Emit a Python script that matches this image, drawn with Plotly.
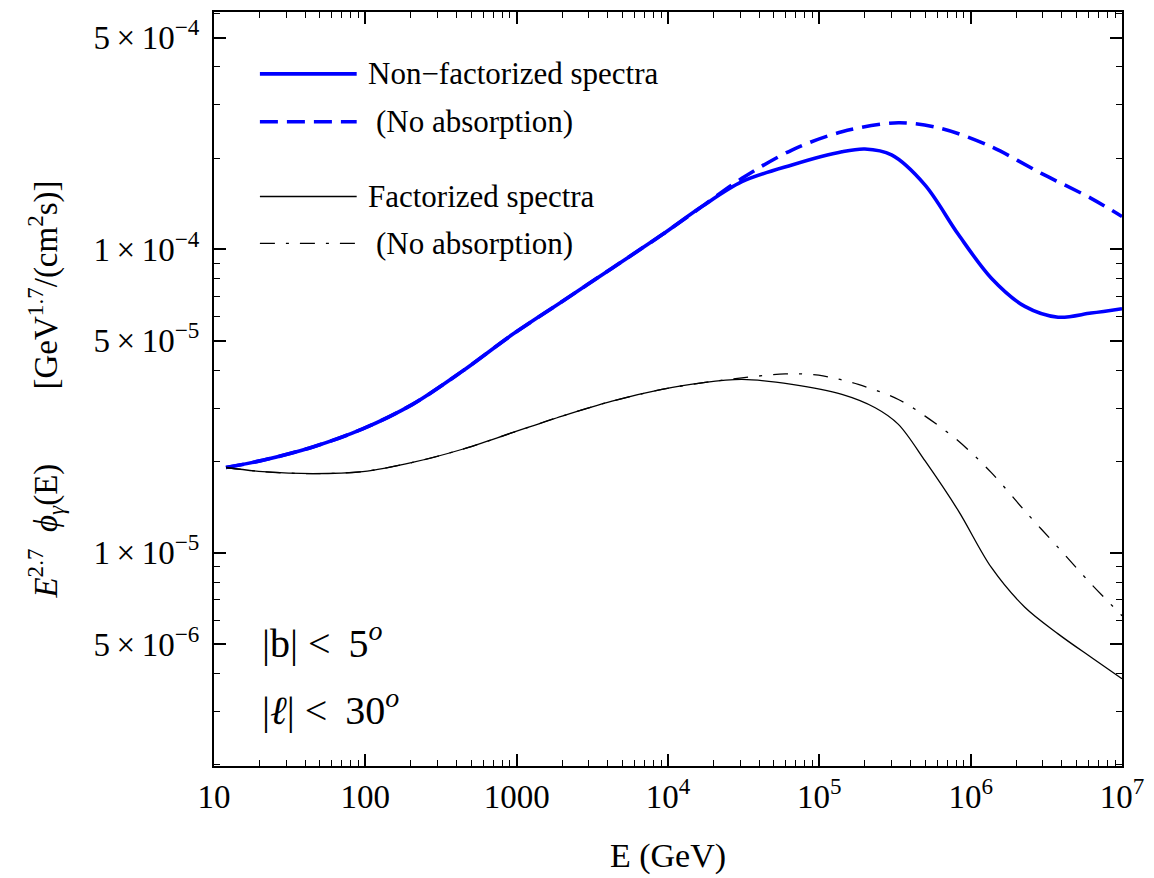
import plotly.graph_objects as go
import numpy as np

# ---------------- data ----------------
E_nonfact = [12, 21, 45, 96, 205, 438, 935, 1998, 4268, 9117, 16730, 30800, 65900,
             1.41e5, 2.0e5, 3.0e5, 5.0e5, 8.3e5, 1.37e6, 2.28e6, 3.78e6, 6.25e6, 1e7]
nonfact_abs = [1.91e-5, 2.018e-5, 2.232e-5, 2.56e-5, 3.084e-5, 3.97e-5, 5.24e-5, 6.74e-5, 8.68e-5,
               1.118e-4, 1.385e-4, 1.674e-4, 1.90e-4, 2.10e-4, 2.145e-4, 2.05e-4, 1.63e-4,
               1.12e-4, 8.04e-5, 6.49e-5, 5.98e-5, 6.17e-5, 6.38e-5]

E_nonfact_noabs = [12, 21, 45, 96, 205, 438, 935, 1998, 4268, 9117, 16730, 30800, 65900,
                   1.41e5, 3.33e5, 6.43e5, 1.37e6, 2.93e6, 6.25e6, 1e7]
nonfact_noabs = [1.91e-5, 2.018e-5, 2.232e-5, 2.56e-5, 3.084e-5, 3.97e-5, 5.24e-5, 6.74e-5, 8.68e-5,
                 1.118e-4, 1.385e-4, 1.716e-4, 2.128e-4, 2.444e-4, 2.617e-4, 2.506e-4,
                 2.182e-4, 1.782e-4, 1.475e-4, 1.284e-4]

E_fact = [12, 21, 45, 96, 205, 438, 935, 1998, 4268, 9117, 16730, 30800, 65900, 1.41e5,
          2.34e5, 3.33e5, 5.0e5, 8.3e5, 1.37e6, 2.28e6, 3.78e6, 6.25e6, 1e7]
fact_abs = [1.91e-5, 1.851e-5, 1.823e-5, 1.851e-5, 1.985e-5, 2.194e-5, 2.487e-5, 2.822e-5, 3.162e-5,
            3.455e-5, 3.632e-5, 3.727e-5, 3.589e-5, 3.327e-5, 3.006e-5, 2.65e-5, 2.007e-5,
            1.374e-5, 8.94e-6, 6.61e-6, 5.40e-6, 4.52e-6, 3.84e-6]

E_fact_noabs = [12, 21, 45, 96, 205, 438, 935, 1998, 4268, 9117, 16730, 30800, 59600, 98900,
                1.81e5, 3.33e5, 5.0e5, 8.3e5, 1.37e6, 2.28e6, 3.78e6, 6.25e6, 1e7]
fact_noabs = [1.91e-5, 1.851e-5, 1.823e-5, 1.851e-5, 1.985e-5, 2.194e-5, 2.487e-5, 2.822e-5, 3.162e-5,
              3.455e-5, 3.632e-5, 3.772e-5, 3.888e-5, 3.850e-5, 3.589e-5, 3.202e-5, 2.822e-5,
              2.335e-5, 1.837e-5, 1.374e-5, 1.041e-5, 7.89e-6, 6.2e-6]

x_tickvals = [10, 100, 1000, 1e4, 1e5, 1e6, 1e7]
x_ticktext = ["10", "100", "1000", "10<sup>4</sup>", "10<sup>5</sup>", "10<sup>6</sup>", "10<sup>7</sup>"]
y_tickvals = [5e-6, 1e-5, 5e-5, 1e-4, 5e-4]
y_ticktext = ["5\u2009×\u200910<sup>−6</sup>", "1\u2009×\u200910<sup>−5</sup>", "5\u2009×\u200910<sup>−5</sup>",
              "1\u2009×\u200910<sup>−4</sup>", "5\u2009×\u200910<sup>−4</sup>"]

legend_labels = ["Non−factorized spectra", "(No absorption)", "Factorized spectra", "(No absorption)"]

FONT = "Liberation Serif"
BLUE = "#0000ff"
DASH_BLUE = "18px,9px"
DASH_DOT = "15px,11px,3px,11px"
SMOOTH = 0.9

fig = go.Figure()
fig.add_trace(go.Scatter(x=E_nonfact_noabs, y=nonfact_noabs, mode="lines",
                         line=dict(color=BLUE, width=3.6, dash=DASH_BLUE, shape="spline", smoothing=SMOOTH),
                         showlegend=False))
fig.add_trace(go.Scatter(x=E_nonfact, y=nonfact_abs, mode="lines",
                         line=dict(color=BLUE, width=3.6, shape="spline", smoothing=SMOOTH),
                         showlegend=False))
fig.add_trace(go.Scatter(x=E_fact_noabs, y=fact_noabs, mode="lines",
                         line=dict(color="black", width=1.3, dash=DASH_DOT, shape="spline", smoothing=SMOOTH),
                         showlegend=False))
fig.add_trace(go.Scatter(x=E_fact, y=fact_abs, mode="lines",
                         line=dict(color="black", width=1.3, shape="spline", smoothing=SMOOTH),
                         showlegend=False))

# minor tick positions
x_minor = [m * 10 ** d for d in range(1, 7) for m in range(2, 10)]
y_minor = [m * 10 ** d for d in range(-6, -3) for m in range(2, 10) if m != 5]

axis_common = dict(showline=True, linecolor="black", linewidth=2, mirror="ticks",
                   ticks="inside", ticklen=12, tickwidth=1.5, tickcolor="black",
                   showgrid=False, zeroline=False,
                   tickfont=dict(family=FONT, size=33, color="black"))

fig.update_xaxes(type="log", range=[1, 7], tickmode="array", tickvals=x_tickvals,
                 ticktext=x_ticktext,
                 minor=dict(tickmode="array", tickvals=x_minor, ticks="inside", ticklen=6,
                            tickwidth=1, tickcolor="black", showgrid=False),
                 title=dict(text="E (GeV)", font=dict(family=FONT, size=34, color="black"), standoff=30),
                 **axis_common)
fig.update_yaxes(type="log", range=[np.log10(1.98e-6), np.log10(6.07e-4)], tickmode="array",
                 tickvals=y_tickvals, ticktext=y_ticktext,
                 minor=dict(tickmode="array", tickvals=y_minor, ticks="inside", ticklen=6,
                            tickwidth=1, tickcolor="black", showgrid=False),
                 title=dict(text="<i>E</i><sup>2.7</sup>\u00a0 <i>ϕ</i><sub><i>γ</i></sub>(E)"
                                 + "\u00a0" * 9 + "[GeV<sup>1.7</sup>/(cm<sup>2</sup>s)]",
                            font=dict(family=FONT, size=33, color="black"), standoff=26),
                 ticklabelstandoff=6,
                 **axis_common)

# ---------------- manual legend ----------------
L, R, T, B = 214, 1124, 10, 766
def px(xp):
    return (xp - L) / (R - L)
def py(yp):
    return 1 - (yp - T) / (B - T)

legend_rows = [72, 120, 195, 242]
legend_styles = [dict(color=BLUE, width=3.6), dict(color=BLUE, width=3.6, dash=DASH_BLUE),
                 dict(color="black", width=1.3), dict(color="black", width=1.3, dash=DASH_DOT)]
legend_text_x = [366, 374, 366, 374]
for yrow, st, lab, tx in zip(legend_rows, legend_styles, legend_labels, legend_text_x):
    fig.add_shape(type="line", xref="paper", yref="paper", x0=px(260), x1=px(357),
                  y0=py(yrow), y1=py(yrow), line=st)
    fig.add_annotation(xref="paper", yref="paper", x=px(tx), y=py(yrow), text=lab,
                       showarrow=False, xanchor="left", yanchor="middle",
                       font=dict(family=FONT, size=31, color="black"))

fig.add_annotation(xref="paper", yref="paper", x=px(260), y=py(640),
                   text="|b| <\u2009 5<sup><i>o</i></sup>", showarrow=False, xanchor="left", yanchor="middle",
                   font=dict(family=FONT, size=40, color="black"))
fig.add_annotation(xref="paper", yref="paper", x=px(260), y=py(707),
                   text="|<i>ℓ</i>| <\u2009 30<sup><i>o</i></sup>", showarrow=False, xanchor="left", yanchor="middle",
                   font=dict(family=FONT, size=40, color="black"))

fig.update_layout(width=1154, height=878, margin=dict(l=L, r=1154 - R, t=T, b=878 - B),
                  plot_bgcolor="white", paper_bgcolor="white", showlegend=False)

fig.write_html("out.html")
